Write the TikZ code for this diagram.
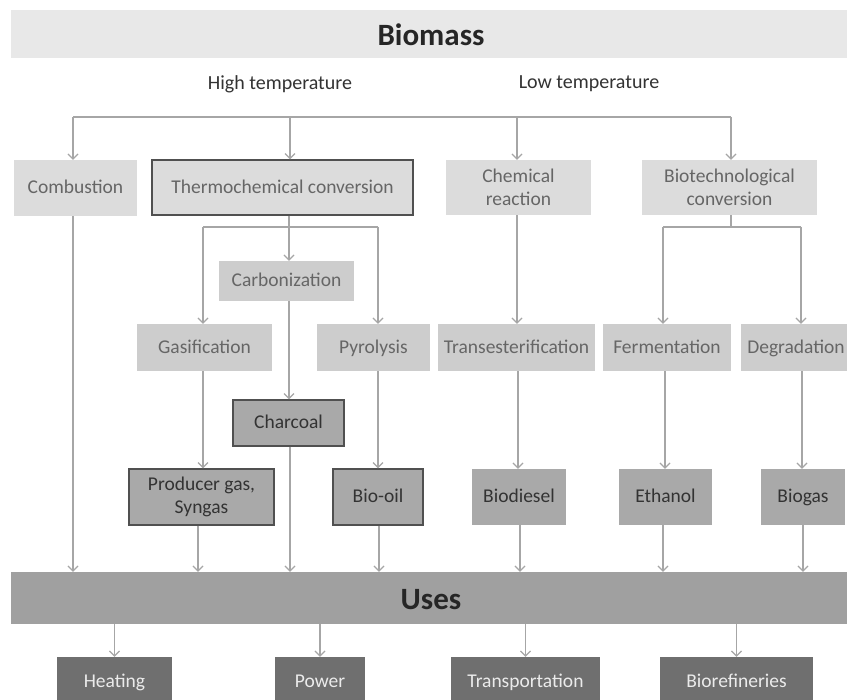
\documentclass[tikz,border=0pt]{standalone}
\usepackage{fontspec}
\setmainfont{Carlito}
\usetikzlibrary{arrows.meta}
\definecolor{cbar}{HTML}{E8E8E8}
\definecolor{cone}{HTML}{DCDCDC}
\definecolor{ctwo}{HTML}{CDCDCD}
\definecolor{cprod}{HTML}{A9A9A9}
\definecolor{cuses}{HTML}{A0A0A0}
\definecolor{cbot}{HTML}{6F6F6F}
\definecolor{tgray}{HTML}{666666}
\definecolor{tdark}{HTML}{333333}
\definecolor{lcol}{HTML}{A6A6A6}
\definecolor{bcol}{HTML}{505050}
\begin{document}
\begin{tikzpicture}[x=1pt,y=-1pt,
  box/.style={rectangle, inner sep=0pt, align=center, font=\fontsize{19.5}{23}\selectfont},
  one/.style={text height=14, text depth=2},
  lone/.style={box, fill=cone, text=tgray},
  ltwo/.style={box, one, fill=ctwo, text=tgray},
  prod/.style={box, fill=cprod, text=tdark},
  prodb/.style={prod, draw=bcol, line width=1.2},
  usebox/.style={box, one, fill=cbot, text=white!92!black},
  bar/.style={rectangle, inner sep=0pt, text height=24, text depth=0, font=\fontsize{31}{33}\selectfont\bfseries, text=black!85},
  lbl/.style={inner sep=0pt, font=\fontsize{20}{22}\selectfont, text=tdark},
  ln/.style={draw=lcol, line width=1.2},
  arr/.style={ln, -{Straight Barb[length=5,width=10]}}]
\useasboundingbox (0,0) rectangle (847,700);
\fill[white] (0,0) rectangle (847,700);
% bars
\node[bar, fill=cbar, minimum width=840, minimum height=48] (biomass) at (431,34) {Biomass};
\node[bar, fill=cuses, minimum width=840, minimum height=52] (uses) at (431,598) {Uses};
\node[lbl] (high) at (280,84) {High temperature};
\node[lbl] (low) at (589,84) {Low temperature};
% level 1
\node[lone, one, minimum width=123, minimum height=56] (comb) at (75.5,188) {Combustion};
\node[lone, one, draw=bcol, line width=1.2, minimum width=261, minimum height=55] (thermo) at (282.5,187.5) {Thermochemical conversion};
\node[lone, minimum width=145, minimum height=55] (chem) at (518.5,187.5) {Chemical\\reaction};
\node[lone, minimum width=175, minimum height=55] (biotech) at (729.5,187.5) {Biotechnological\\conversion};
% level 2
\node[ltwo, minimum width=135, minimum height=40] (carb) at (286.5,281) {Carbonization};
\node[ltwo, minimum width=135, minimum height=47] (gasif) at (204.5,347.5) {Gasification};
\node[ltwo, minimum width=113, minimum height=47] (pyro) at (373.5,347.5) {Pyrolysis};
\node[ltwo, minimum width=157, minimum height=47] (trans) at (516.5,347.5) {Transesterification};
\node[ltwo, minimum width=128, minimum height=47] (ferm) at (667,347.5) {Fermentation};
\node[ltwo, minimum width=110, minimum height=47] (degr) at (796,347.5) {Degradation};
% products
\node[prodb, one, minimum width=111, minimum height=46] (charc) at (288.5,423) {Charcoal};
\node[prodb, minimum width=145, minimum height=56] (prodgas) at (201.5,497) {Producer gas,\\Syngas};
\node[prodb, one, minimum width=90, minimum height=56] (biooil) at (378,497) {Bio-oil};
\node[prod, one, minimum width=94, minimum height=56] (biodiesel) at (519,497) {Biodiesel};
\node[prod, one, minimum width=93, minimum height=56] (ethanol) at (665.5,497) {Ethanol};
\node[prod, one, minimum width=84, minimum height=56] (biogas) at (803,497) {Biogas};
% uses
\node[usebox, minimum width=115, minimum height=50] (heat) at (114.5,682) {Heating};
\node[usebox, minimum width=90, minimum height=50] (power) at (320,682) {Power};
\node[usebox, minimum width=149, minimum height=50] (transp) at (525.5,682) {Transportation};
\node[usebox, minimum width=153, minimum height=50] (bioref) at (736.5,682) {Biorefineries};
% top bus
\coordinate (t1) at (73,117);
\coordinate (t2) at (290,117);
\coordinate (t3) at (517,117);
\coordinate (t4) at (731,117);
\draw[ln] (t1) -- (t4);
\draw[arr] (t1) -- (t1 |- comb.north);
\draw[arr] (t2) -- (t2 |- thermo.north);
\draw[arr] (t3) -- (t3 |- chem.north);
\draw[arr] (t4) -- (t4 |- biotech.north);
% thermochemical branch
\coordinate (m1) at (203,227);
\coordinate (m2) at (289,227);
\coordinate (m3) at (378,227);
\draw[ln] (m1) -- (m3);
\draw[ln] (m2 |- thermo.south) -- (m2);
\draw[arr] (m2) -- (m2 |- carb.north);
\draw[arr] (m1) -- (m1 |- gasif.north);
\draw[arr] (m3) -- (m3 |- pyro.north);
\draw[arr] (m2 |- carb.south) -- (m2 |- charc.north);
\draw[arr] (m1 |- gasif.south) -- (m1 |- prodgas.north);
\draw[arr] (m3 |- pyro.south) -- (m3 |- biooil.north);
% chemical
\coordinate (c1) at (517,227);
\draw[arr] (c1 |- chem.south) -- (c1 |- trans.north);
\coordinate (c2) at (518,371);
\draw[arr] (c2 |- trans.south) -- (c2 |- biodiesel.north);
% biotech branch
\coordinate (b1) at (663,227);
\coordinate (b2) at (731,227);
\coordinate (b3) at (801,227);
\draw[ln] (b1) -- (b3);
\draw[ln] (b2 |- biotech.south) -- (b2);
\draw[arr] (b1) -- (b1 |- ferm.north);
\draw[arr] (b3) -- (b3 |- degr.north);
\coordinate (e1) at (665,371);
\coordinate (e2) at (802,371);
\draw[arr] (e1 |- ferm.south) -- (e1 |- ethanol.north);
\draw[arr] (e2 |- degr.south) -- (e2 |- biogas.north);
% to uses
\coordinate (u1) at (73,560);
\coordinate (u2) at (198,560);
\coordinate (u3) at (290,560);
\coordinate (u4) at (379,560);
\coordinate (u5) at (520,560);
\coordinate (u6) at (663,560);
\coordinate (u7) at (803,560);
\draw[arr] (u1 |- comb.south) -- (u1 |- uses.north);
\draw[arr] (u2 |- prodgas.south) -- (u2 |- uses.north);
\draw[arr] (u3 |- charc.south) -- (u3 |- uses.north);
\draw[arr] (u4 |- biooil.south) -- (u4 |- uses.north);
\draw[arr] (u5 |- biodiesel.south) -- (u5 |- uses.north);
\draw[arr] (u6 |- ethanol.south) -- (u6 |- uses.north);
\draw[arr] (u7 |- biogas.south) -- (u7 |- uses.north);
% from uses
\draw[arr] (heat.north |- uses.south) -- (heat.north);
\draw[arr] (power.north |- uses.south) -- (power.north);
\draw[arr] (transp.north |- uses.south) -- (transp.north);
\draw[arr] (bioref.north |- uses.south) -- (bioref.north);
\end{tikzpicture}
\end{document}
